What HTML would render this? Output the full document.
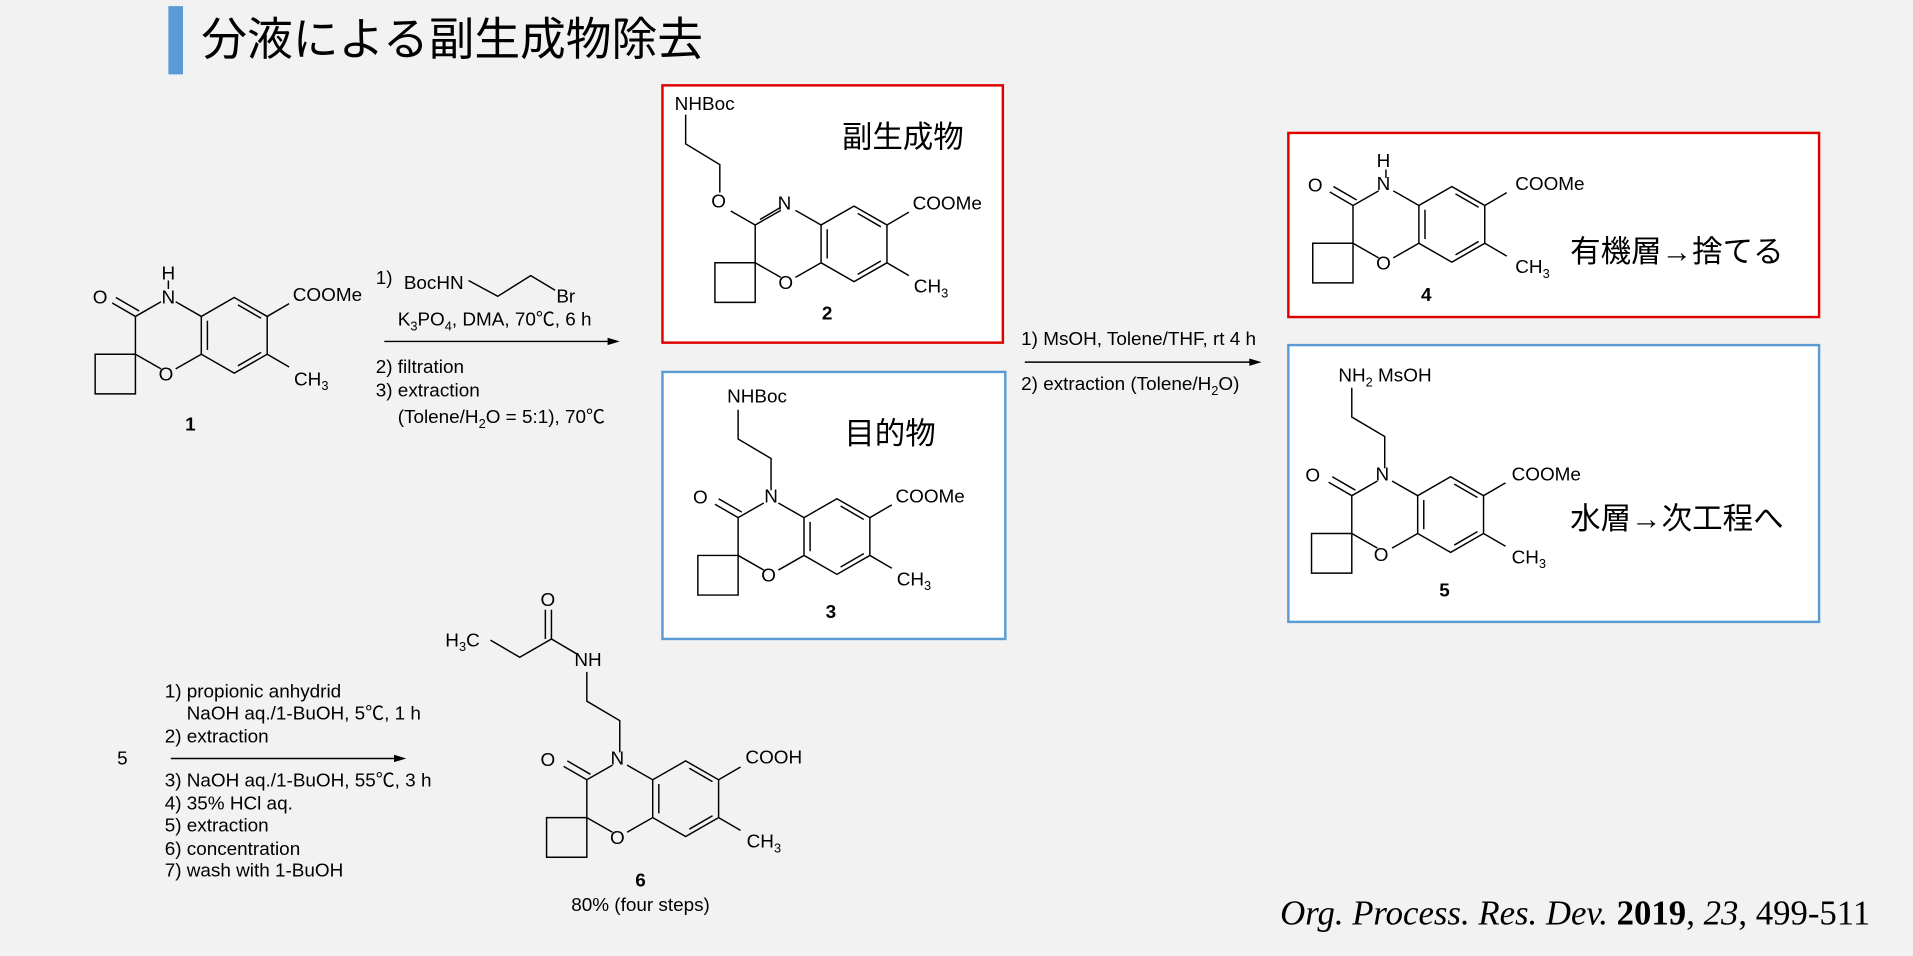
<!DOCTYPE html>
<html><head><meta charset="utf-8"><style>
html,body{margin:0;padding:0;background:#f2f2f2;}
svg{display:block}
text{font-family:"Liberation Sans","Noto Sans CJK JP",sans-serif;fill:#000}
.l{stroke:#000;stroke-width:1.2;fill:none}
.a{font-size:15.5px}
.j{font-size:25px}
.s{font-size:10.5px}
</style></head><body>
<svg width="1913" height="956" viewBox="0 0 1568 784" preserveAspectRatio="none" xmlns="http://www.w3.org/2000/svg">
<defs>
<g id="core" class="l">
<polygon points="0,-31 27,-15.5 27,15.5 0,31 -27,15.5 -27,-15.5"/>
<line x1="3" y1="-25" x2="22" y2="-14"/>
<line x1="22" y1="14" x2="3" y2="25"/>
<line x1="-22" y1="-12" x2="-22" y2="12"/>
<line x1="-27" y1="-15.5" x2="-48" y2="-27.5"/>
<line x1="-60" y1="-27.5" x2="-81" y2="-15.5"/>
<line x1="-81" y1="-15.5" x2="-81" y2="15.5"/>
<line x1="-81" y1="15.5" x2="-60" y2="27.5"/>
<line x1="-48" y1="27.5" x2="-27" y2="15.5"/>
<line x1="27" y1="-15.5" x2="45" y2="-26"/>
<line x1="27" y1="15.5" x2="45" y2="26"/>
<polyline points="-81,15.5 -81,48 -114,48 -114,15.5 -81,15.5"/>
</g>
<g id="co" class="l">
<line x1="-81" y1="-15.5" x2="-100" y2="-26.5"/>
<line x1="-78" y1="-20" x2="-97" y2="-31"/>
</g>
<g id="chain" class="l">
<polyline points="-54,-38 -54,-64 -81,-80 -81,-104"/>
</g>
</defs>

<rect x="138" y="5" width="12" height="56" fill="#5b9bd5"/>
<text x="165" y="45" style="font-size:37.5px">分液による副生成物除去</text>

<rect x="543" y="70" width="279" height="211" fill="#fff" stroke="#e00000" stroke-width="2"/>
<rect x="543" y="305" width="281" height="219" fill="#fff" stroke="#5b9bd5" stroke-width="2"/>
<rect x="1056" y="109" width="435" height="151" fill="#fff" stroke="#e00000" stroke-width="2"/>
<rect x="1056" y="283" width="435" height="227" fill="#fff" stroke="#5b9bd5" stroke-width="2"/>

<g transform="translate(192,275)">
<use href="#core"/><use href="#co"/>
<line class="l" x1="-54" y1="-38" x2="-54" y2="-45"/>
<text class="a" x="-54" y="-46" text-anchor="middle">H</text>
<text class="a" x="-54" y="-26" text-anchor="middle">N</text>
<text class="a" x="-110" y="-26" text-anchor="middle">O</text>
<text class="a" x="-56" y="37" text-anchor="middle">O</text>
<text class="a" x="48" y="-28">COOMe</text>
<text class="a" x="49" y="41">CH<tspan class="s" dy="4">3</tspan></text>
<text class="a" x="-36" y="78" text-anchor="middle" font-weight="bold">1</text>
</g>

<line class="l" x1="315" y1="280" x2="502" y2="280"/>
<polygon points="508,280 498,277 498,283"/>
<text class="a" x="308" y="233">1)</text>
<text class="a" x="331" y="237">BocHN</text>
<polyline class="l" points="384,230 408,243 435,226 455,238"/>
<text class="a" x="456" y="248">Br</text>
<text class="a" x="326" y="267">K<tspan class="s" dy="4">3</tspan><tspan dy="-4">PO</tspan><tspan class="s" dy="4">4</tspan><tspan dy="-4">, DMA, 70℃, 6 h</tspan></text>
<text class="a" x="308" y="306">2) filtration</text>
<text class="a" x="308" y="325">3) extraction</text>
<text class="a" x="326" y="347">(Tolene/H<tspan class="s" dy="4">2</tspan><tspan dy="-4">O = 5:1), 70℃</tspan></text>

<g transform="translate(700,200)">
<use href="#core"/>
<line class="l" x1="-81" y1="-15.5" x2="-101" y2="-27"/>
<line class="l" x1="-77" y1="-20" x2="-60" y2="-30"/>
<polyline class="l" points="-110,-42 -110,-65 -138,-82 -138,-106"/>
<text class="a" x="-57" y="-28" text-anchor="middle">N</text>
<text class="a" x="-111" y="-30" text-anchor="middle">O</text>
<text class="a" x="-56" y="37" text-anchor="middle">O</text>
<text class="a" x="-147" y="-110">NHBoc</text>
<text class="a" x="48" y="-28">COOMe</text>
<text class="a" x="49" y="40">CH<tspan class="s" dy="4">3</tspan></text>
<text class="a" x="-22" y="62" text-anchor="middle" font-weight="bold">2</text>
<text class="j" x="-10" y="-79">副生成物</text>
</g>

<g transform="translate(686,440)">
<use href="#core"/><use href="#co"/><use href="#chain"/>
<text class="a" x="-54" y="-28" text-anchor="middle">N</text>
<text class="a" x="-112" y="-27" text-anchor="middle">O</text>
<text class="a" x="-56" y="37" text-anchor="middle">O</text>
<text class="a" x="-90" y="-110">NHBoc</text>
<text class="a" x="48" y="-28">COOMe</text>
<text class="a" x="49" y="40">CH<tspan class="s" dy="4">3</tspan></text>
<text class="a" x="-5" y="67" text-anchor="middle" font-weight="bold">3</text>
<text class="j" x="6" y="-76">目的物</text>
</g>

<line class="l" x1="840" y1="297" x2="1028" y2="297"/>
<polygon points="1034,297 1024,294 1024,300"/>
<text class="a" x="837" y="283">1) MsOH, Tolene/THF, rt 4 h</text>
<text class="a" x="837" y="320">2) extraction (Tolene/H<tspan class="s" dy="4">2</tspan><tspan dy="-4">O)</tspan></text>

<g transform="translate(1190,184)">
<use href="#core"/><use href="#co"/>
<line class="l" x1="-54" y1="-38" x2="-54" y2="-45"/>
<text class="a" x="-56" y="-47" text-anchor="middle">H</text>
<text class="a" x="-56" y="-28" text-anchor="middle">N</text>
<text class="a" x="-112" y="-27" text-anchor="middle">O</text>
<text class="a" x="-56" y="37" text-anchor="middle">O</text>
<text class="a" x="52" y="-28">COOMe</text>
<text class="a" x="52" y="40">CH<tspan class="s" dy="4">3</tspan></text>
<text class="a" x="-21" y="63" text-anchor="middle" font-weight="bold">4</text>
<text class="j" x="97" y="31">有機層→捨てる</text>
</g>

<g transform="translate(1189,422)">
<use href="#core"/><use href="#co"/><use href="#chain"/>
<text class="a" x="-56" y="-28" text-anchor="middle">N</text>
<text class="a" x="-113" y="-27" text-anchor="middle">O</text>
<text class="a" x="-57" y="38" text-anchor="middle">O</text>
<text class="a" x="-92" y="-109">NH<tspan class="s" dy="4">2</tspan><tspan dy="-4"> MsOH</tspan></text>
<text class="a" x="50" y="-28">COOMe</text>
<text class="a" x="50" y="40">CH<tspan class="s" dy="4">3</tspan></text>
<text class="a" x="-5" y="67" text-anchor="middle" font-weight="bold">5</text>
<text class="j" x="98" y="12">水層→次工程へ</text>
</g>

<text class="a" x="96" y="627">5</text>
<line class="l" x1="140" y1="622" x2="327" y2="622"/>
<polygon points="333,622 323,619 323,625"/>
<text class="a" x="135" y="572">1) propionic anhydrid</text>
<text class="a" x="153" y="590">NaOH aq./1-BuOH, 5℃, 1 h</text>
<text class="a" x="135" y="609">2) extraction</text>
<text class="a" x="135" y="645">3) NaOH aq./1-BuOH, 55℃, 3 h</text>
<text class="a" x="135" y="664">4) 35% HCl aq.</text>
<text class="a" x="135" y="682">5) extraction</text>
<text class="a" x="135" y="701">6) concentration</text>
<text class="a" x="135" y="719">7) wash with 1-BuOH</text>

<g transform="translate(562,655)">
<use href="#core"/><use href="#co"/><use href="#chain"/>
<polyline class="l" points="-88,-118 -110,-131 -136,-116 -160,-130"/>
<line class="l" x1="-110" y1="-131" x2="-110" y2="-155"/>
<line class="l" x1="-115" y1="-131" x2="-115" y2="-155"/>
<text class="a" x="-56" y="-28" text-anchor="middle">N</text>
<text class="a" x="-113" y="-27" text-anchor="middle">O</text>
<text class="a" x="-56" y="37" text-anchor="middle">O</text>
<text class="a" x="-113" y="-158" text-anchor="middle">O</text>
<text class="a" x="-80" y="-109" text-anchor="middle">NH</text>
<text class="a" x="-197" y="-125">H<tspan class="s" dy="4">3</tspan><tspan dy="-4">C</tspan></text>
<text class="a" x="49" y="-29">COOH</text>
<text class="a" x="50" y="40">CH<tspan class="s" dy="4">3</tspan></text>
<text class="a" x="-37" y="72" text-anchor="middle" font-weight="bold">6</text>
<text class="a" x="-37" y="92" text-anchor="middle">80% (four steps)</text>
</g>

<text x="1533" y="758" text-anchor="end" style="font-family:'Liberation Serif',serif;font-size:28.5px"><tspan font-style="italic">Org. Process. Res. Dev.</tspan> <tspan font-weight="bold">2019</tspan>, <tspan font-style="italic">23</tspan>, 499-511</text>
</svg>
</body></html>
